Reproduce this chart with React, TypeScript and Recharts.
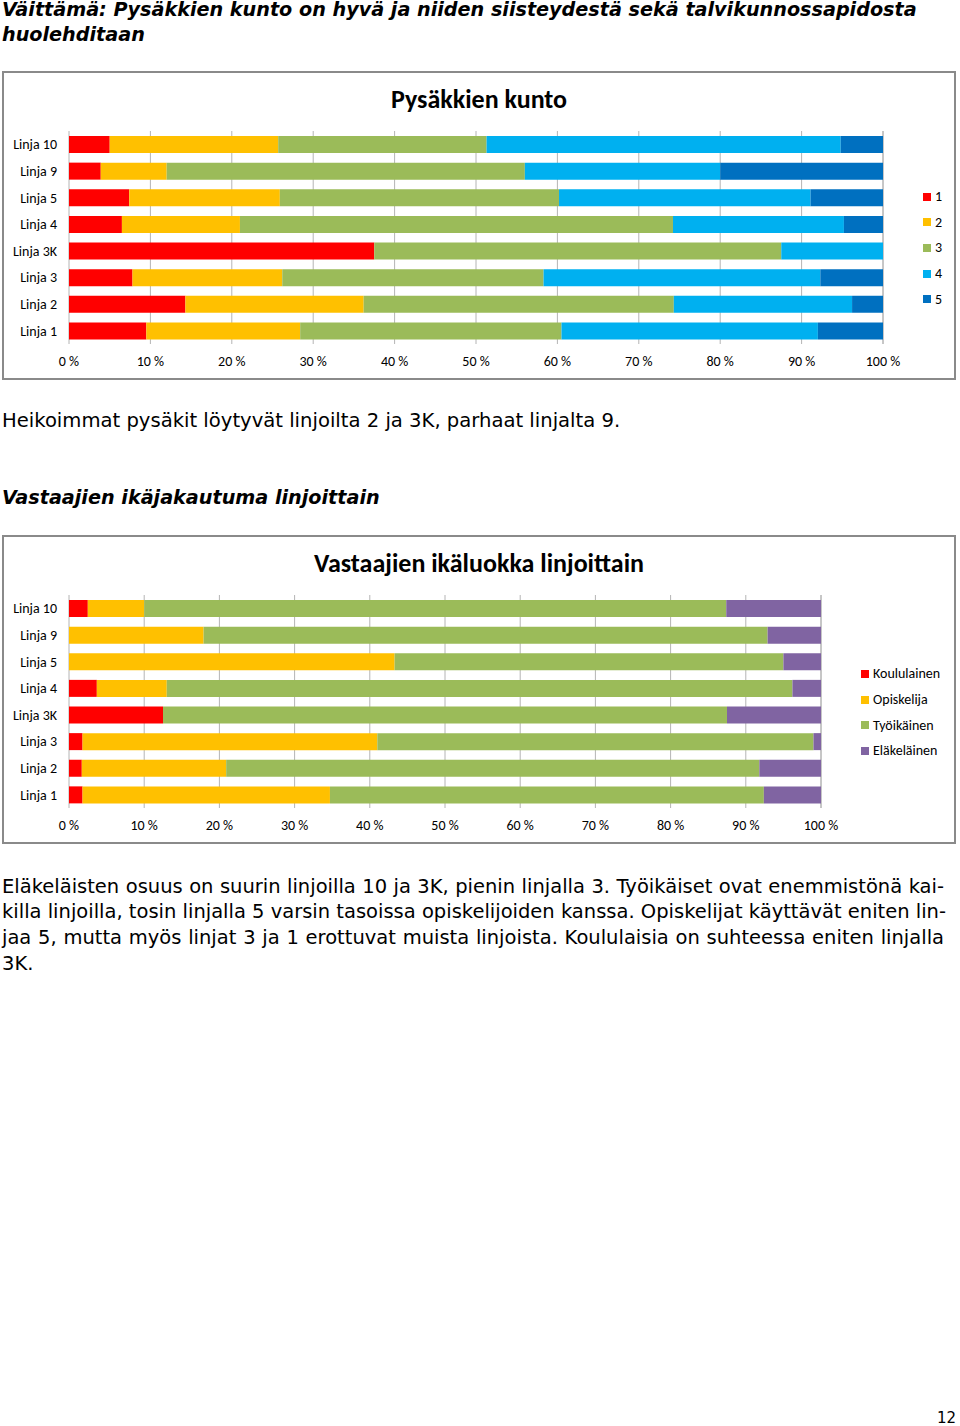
import { BarChart, Bar, XAxis, YAxis, CartesianGrid, Legend } from "recharts"

// bus lines, top to bottom as in the report
const LINES = ["Linja 10", "Linja 9", "Linja 5", "Linja 4", "Linja 3K", "Linja 3", "Linja 2", "Linja 1"]

// Pysäkkien kunto, share of answers 1..5 (%)
const GRADE_NAMES = ["1", "2", "3", "4", "5"]
const GRADE_1 = [5.0, 3.9, 7.4, 6.5, 37.5, 7.8, 14.3, 9.5]
const GRADE_2 = [20.7, 8.1, 18.5, 14.5, 0, 18.4, 21.9, 18.9]
const GRADE_3 = [25.6, 44.0, 34.3, 53.2, 50.0, 32.1, 38.1, 32.1]
const GRADE_4 = [43.5, 24.0, 30.9, 21.0, 12.5, 34.0, 21.9, 31.5]
const GRADE_5 = [5.2, 20.0, 8.9, 4.8, 0, 7.7, 3.8, 8.0]

// Vastaajien ikäluokka (%)
const AGE_NAMES = ["Koululainen", "Opiskelija", "Työikäinen", "Eläkeläinen"]
const KOULULAINEN = [2.5, 0, 0, 3.7, 12.5, 1.8, 1.7, 1.8]
const OPISKELIJA = [7.5, 17.9, 43.3, 9.3, 0, 39.2, 19.2, 32.9]
const TYOIKAINEN = [77.4, 75.0, 51.7, 83.2, 75.0, 58.0, 70.9, 57.7]
const ELAKELAINEN = [12.6, 7.1, 5.0, 3.8, 12.5, 1.0, 8.2, 7.6]

const PCT_TICKS = [0, 10, 20, 30, 40, 50, 60, 70, 80, 90, 100]

const conditionData = LINES.map((line, i) => ({
  line,
  g1: GRADE_1[i],
  g2: GRADE_2[i],
  g3: GRADE_3[i],
  g4: GRADE_4[i],
  g5: GRADE_5[i],
}))

const ageData = LINES.map((line, i) => ({
  line,
  koul: KOULULAINEN[i],
  opis: OPISKELIJA[i],
  tyo: TYOIKAINEN[i],
  elak: ELAKELAINEN[i],
}))

const CHART_FONT = "'Liberation Sans Narrow', Carlito, Roboto, sans-serif"
const TEXT_FONT = "'DejaVu Sans', Verdana, sans-serif"

const tickStyle = { fontSize: 14, fill: "#000", fontFamily: CHART_FONT }

function SquareLegend({ payload, row }: { payload?: any[]; row: number }) {
  return (
    <div style={{ fontFamily: CHART_FONT, fontSize: 14, color: "#000" }}>
      {(payload || []).map((p) => (
        <div key={p.value} style={{ height: row, display: "flex", alignItems: "center" }}>
          <span style={{ width: 8, height: 8, background: p.color, marginRight: 4, display: "inline-block" }} />
          <span>{p.value}</span>
        </div>
      ))}
    </div>
  )
}

const boxStyle = (top: number): React.CSSProperties => ({
  position: "absolute",
  left: 2,
  top,
  width: 954,
  height: 309,
  boxSizing: "border-box",
  border: "2px solid #8a8a8a",
})

const titleStyle = (top: number): React.CSSProperties => ({
  position: "absolute",
  left: 0,
  width: 958,
  top,
  textAlign: "center",
  fontFamily: CHART_FONT,
  fontWeight: "bold",
  fontSize: 26,
  lineHeight: "30px",
})

const headStyle = (top: number): React.CSSProperties => ({
  position: "absolute",
  left: 2,
  top,
  fontSize: 19.2,
  fontWeight: "bold",
  fontStyle: "italic",
  lineHeight: "25px",
  whiteSpace: "nowrap",
})

const justLine: React.CSSProperties = {
  width: 942,
  textAlign: "justify",
  textAlignLast: "justify",
  whiteSpace: "nowrap",
}

export default function App() {
  return (
    <div style={{ position: "absolute", left: 0, top: 0, width: 960, height: 1426, background: "#fff", fontFamily: TEXT_FONT, color: "#000" }}>
      <div style={headStyle(-3)}>
        Väittämä: Pysäkkien kunto on hyvä ja niiden siisteydestä sekä talvikunnossapidosta
        <br />
        huolehditaan
      </div>

      <div style={boxStyle(71)} />
      <div style={titleStyle(84)}>Pysäkkien kunto</div>
      <div style={{ position: "absolute", left: 2, top: 71 }}>
        <BarChart
          width={954}
          height={309}
          data={conditionData}
          layout="vertical"
          margin={{ top: 60, right: 73, bottom: 6, left: 0 }}
        >
          <CartesianGrid horizontal={false} stroke="#b4b4b4" />
          <XAxis
            type="number"
            domain={[0, 100]}
            ticks={PCT_TICKS}
            tickFormatter={(v) => `${v} %`}
            axisLine={false}
            tickLine={false}
            tickMargin={6}
            height={30}
            tick={tickStyle}
            interval={0}
          />
          <YAxis
            type="category"
            dataKey="line"
            width={67}
            axisLine={false}
            tickLine={false}
            tickMargin={6}
            tick={tickStyle}
            interval={0}
          />
          <Legend
            layout="vertical"
            align="center"
            verticalAlign="middle"
            itemSorter={(item: any) => GRADE_NAMES.indexOf(item.value)}
            wrapperStyle={{ left: 921, top: 113, width: 40 }}
            content={(props: any) => <SquareLegend payload={props.payload} row={25.6} />}
          />
          <Bar dataKey="g1" name={GRADE_NAMES[0]} stackId="a" fill="#ff0000" barSize={17} isAnimationActive={false} />
          <Bar dataKey="g2" name={GRADE_NAMES[1]} stackId="a" fill="#ffc000" barSize={17} isAnimationActive={false} />
          <Bar dataKey="g3" name={GRADE_NAMES[2]} stackId="a" fill="#9bbb59" barSize={17} isAnimationActive={false} />
          <Bar dataKey="g4" name={GRADE_NAMES[3]} stackId="a" fill="#00b0f0" barSize={17} isAnimationActive={false} />
          <Bar dataKey="g5" name={GRADE_NAMES[4]} stackId="a" fill="#0070c0" barSize={17} isAnimationActive={false} />
        </BarChart>
      </div>

      <div style={{ position: "absolute", left: 2, top: 408, fontSize: 19.6, lineHeight: "25px", whiteSpace: "nowrap" }}>
        Heikoimmat pysäkit löytyvät linjoilta 2 ja 3K, parhaat linjalta 9.
      </div>

      <div style={headStyle(485)}>Vastaajien ikäjakautuma linjoittain</div>

      <div style={boxStyle(535)} />
      <div style={titleStyle(548)}>Vastaajien ikäluokka linjoittain</div>
      <div style={{ position: "absolute", left: 2, top: 535 }}>
        <BarChart
          width={954}
          height={308}
          data={ageData}
          layout="vertical"
          margin={{ top: 60, right: 135, bottom: 5, left: 0 }}
        >
          <CartesianGrid horizontal={false} stroke="#b4b4b4" />
          <XAxis
            type="number"
            domain={[0, 100]}
            ticks={PCT_TICKS}
            tickFormatter={(v) => `${v} %`}
            axisLine={false}
            tickLine={false}
            tickMargin={6}
            height={30}
            tick={tickStyle}
            interval={0}
          />
          <YAxis
            type="category"
            dataKey="line"
            width={67}
            axisLine={false}
            tickLine={false}
            tickMargin={6}
            tick={tickStyle}
            interval={0}
          />
          <Legend
            layout="vertical"
            align="center"
            verticalAlign="middle"
            itemSorter={(item: any) => AGE_NAMES.indexOf(item.value)}
            wrapperStyle={{ left: 859, top: 126, width: 92 }}
            content={(props: any) => <SquareLegend payload={props.payload} row={25.7} />}
          />
          <Bar dataKey="koul" name={AGE_NAMES[0]} stackId="a" fill="#ff0000" barSize={17} isAnimationActive={false} />
          <Bar dataKey="opis" name={AGE_NAMES[1]} stackId="a" fill="#ffc000" barSize={17} isAnimationActive={false} />
          <Bar dataKey="tyo" name={AGE_NAMES[2]} stackId="a" fill="#9bbb59" barSize={17} isAnimationActive={false} />
          <Bar dataKey="elak" name={AGE_NAMES[3]} stackId="a" fill="#8064a2" barSize={17} isAnimationActive={false} />
        </BarChart>
      </div>

      <div style={{ position: "absolute", left: 2, top: 873.5, fontSize: 19.5, lineHeight: "25.7px" }}>
        <div style={justLine}>Eläkeläisten osuus on suurin linjoilla 10 ja 3K, pienin linjalla 3. Työikäiset ovat enemmistönä kai-</div>
        <div style={justLine}>killa linjoilla, tosin linjalla 5 varsin tasoissa opiskelijoiden kanssa. Opiskelijat käyttävät eniten lin-</div>
        <div style={justLine}>jaa 5, mutta myös linjat 3 ja 1 erottuvat muista linjoista. Koululaisia on suhteessa eniten linjalla</div>
        <div>3K.</div>
      </div>

      <div style={{ position: "absolute", left: 937, top: 1408, fontSize: 15, lineHeight: "20px" }}>12</div>
    </div>
  )
}
